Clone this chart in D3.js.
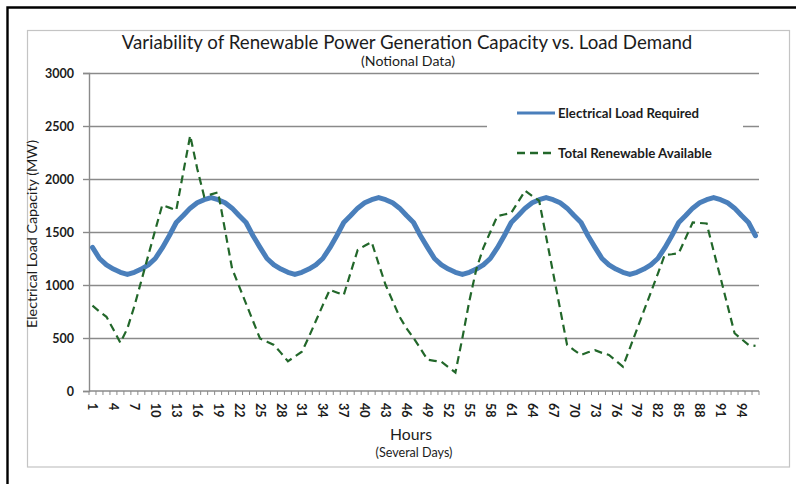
<!DOCTYPE html>
<html>
<head>
<meta charset="utf-8">
<script src="https://cdn.jsdelivr.net/npm/d3@7/dist/d3.min.js"></script>
<style>
  html, body { margin: 0; padding: 0; background: #fff; }
  svg { display: block; }
  text { font-family: Lato, "Open Sans", "Noto Sans", sans-serif; fill: #1c1c1c; }
</style>
</head>
<body>
<svg id="chart" width="796" height="484"></svg>
<script>
// Hour index along the category axis
const hours = d3.range(1, 97);
const hourLabels = [1, 4, 7, 10, 13, 16, 19, 22, 25, 28, 31, 34, 37, 40, 43, 46,
  49, 52, 55, 58, 61, 64, 67, 70, 73, 76, 79, 82, 85, 88, 91, 94];
const yTicks = [0, 500, 1000, 1500, 2000, 2500, 3000];

// Electrical load required (MW), hours 1..96
const loadRequired = [
  1355, 1250, 1190, 1150, 1120, 1100, 1120, 1150, 1190, 1250, 1350, 1465,
  1590, 1655, 1725, 1775, 1805, 1825, 1805, 1775, 1725, 1655, 1590, 1465,
  1355, 1250, 1190, 1150, 1120, 1100, 1120, 1150, 1190, 1250, 1350, 1465,
  1590, 1655, 1725, 1775, 1805, 1825, 1805, 1775, 1725, 1655, 1590, 1465,
  1355, 1250, 1190, 1150, 1120, 1100, 1120, 1150, 1190, 1250, 1350, 1465,
  1590, 1655, 1725, 1775, 1805, 1825, 1805, 1775, 1725, 1655, 1590, 1465,
  1355, 1250, 1190, 1150, 1120, 1100, 1120, 1150, 1190, 1250, 1350, 1465,
  1590, 1655, 1725, 1775, 1805, 1825, 1805, 1775, 1725, 1655, 1590, 1465
];

// Total renewable generation available (MW), hours 1..96
const renewableAvailable = [
  805, 750, 700, 580, 455, 590, 800, 1040, 1280, 1520, 1755, 1730,
  1705, 2060, 2410, 2100, 1835, 1855, 1875, 1515, 1155, 990, 825, 660,
  495, 465, 435, 360, 280, 325, 370, 510, 660, 810, 955, 930,
  905, 1120, 1330, 1370, 1405, 1200, 1000, 850, 700, 590, 500, 400,
  295, 285, 275, 225, 175, 500, 850, 1150, 1350, 1500, 1650, 1665,
  1680, 1785, 1890, 1840, 1795, 1455, 1115, 775, 435, 385, 340, 365,
  385, 360, 340, 285, 230, 405, 580, 755, 930, 1105, 1285, 1290,
  1300, 1445, 1590, 1585, 1580, 1320, 1065, 805, 545, 490, 435, 425
];

const seriesNames = ["Electrical Load Required", "Total Renewable Available"];
const titleText = "Variability of Renewable Power Generation Capacity vs. Load Demand";
const subtitleText = "(Notional Data)";
const yTitleText = "Electrical Load Capacity (MW)";
const xTitleText = "Hours";
const xSubtitleText = "(Several Days)";

const blue = "#4a7fbb";
const green = "#22672a";
const gridGray = "#8a8a8a";

const svg = d3.select("#chart");

// scale a text element's font size so it spans the given width
function fitWidth(sel, w) {
  const node = sel.node();
  const fs = parseFloat(sel.attr("font-size"));
  const len = node.getComputedTextLength();
  sel.attr("font-size", (fs * w / len).toFixed(2));
  return sel;
}

// outer frame (top and left edges) and chart area border
svg.append("path")
  .attr("d", "M7.5,484V7.5H796")
  .attr("fill", "none").attr("stroke", "#000").attr("stroke-width", 2.4);
svg.append("rect")
  .attr("x", 27.5).attr("y", 30.5).attr("width", 762).attr("height", 436.5)
  .attr("fill", "#fff").attr("stroke", "#c4c4c4").attr("stroke-width", 1.2);

const plot = { left: 89, right: 759, top: 73, bottom: 391 };

const x = d3.scaleBand().domain(hours).range([plot.left, plot.right]).padding(0);
const y = d3.scaleLinear().domain([0, 3000]).range([plot.bottom, plot.top]);
const cx = h => x(h) + x.bandwidth() / 2;

// horizontal gridlines
svg.append("g")
  .attr("transform", `translate(${plot.left},0)`)
  .call(d3.axisLeft(y).tickValues(yTicks.filter(v => v > 0))
    .tickSize(-(plot.right - plot.left)).tickFormat(""))
  .call(g => g.select(".domain").remove())
  .call(g => g.selectAll("line").attr("stroke", gridGray).attr("stroke-width", 1.4));

// y axis
const yAxis = svg.append("g")
  .attr("transform", `translate(${plot.left},0)`)
  .call(d3.axisLeft(y).tickValues(yTicks).tickFormat(d3.format("d"))
    .tickSize(6).tickPadding(9));
yAxis.select(".domain").attr("stroke", gridGray).attr("stroke-width", 1.4);
yAxis.selectAll("line").attr("stroke", gridGray).attr("stroke-width", 1.4);
yAxis.selectAll("text")
  .attr("font-size", 12.5).attr("font-weight", 700)
  .attr("font-family", "Lato, sans-serif").attr("fill", "#1c1c1c");

// x axis: baseline, category boundary ticks, rotated labels
svg.append("line")
  .attr("x1", plot.left).attr("x2", plot.right)
  .attr("y1", y(0)).attr("y2", y(0))
  .attr("stroke", gridGray).attr("stroke-width", 1.4);
svg.append("g").selectAll("line")
  .data(hours.concat([null]))
  .join("line")
  .attr("x1", d => d === null ? plot.right : x(d))
  .attr("x2", d => d === null ? plot.right : x(d))
  .attr("y1", y(0)).attr("y2", y(0) + 4)
  .attr("stroke", gridGray).attr("stroke-width", 1);

const xAxis = svg.append("g")
  .attr("transform", `translate(0,${y(0)})`)
  .call(d3.axisBottom(x).tickValues(hourLabels).tickSize(0));
xAxis.select(".domain").remove();
xAxis.selectAll("text")
  .attr("transform", "rotate(90)")
  .attr("x", 12).attr("y", 0).attr("dy", "0.35em")
  .attr("text-anchor", "start")
  .attr("font-size", 12.5).attr("font-weight", 700)
  .attr("font-family", "Lato, sans-serif").attr("fill", "#1c1c1c");

// series lines
const line = d3.line().x((d, i) => cx(hours[i])).y(d => y(d));

svg.append("path")
  .datum(loadRequired)
  .attr("d", line)
  .attr("fill", "none").attr("stroke", blue)
  .attr("stroke-width", 5).attr("stroke-linejoin", "round").attr("stroke-linecap", "round");

svg.append("path")
  .datum(renewableAvailable)
  .attr("d", line)
  .attr("fill", "none").attr("stroke", green)
  .attr("stroke-width", 2.2).attr("stroke-dasharray", "8,5");

// legend
const legend = svg.append("g");
legend.append("rect")
  .attr("x", 487).attr("y", 86).attr("width", 256).attr("height", 86)
  .attr("fill", "#fff");
const legendRows = [
  { name: seriesNames[0], y: 113, stroke: blue, width: 3, dash: null, w: 141 },
  { name: seriesNames[1], y: 153, stroke: green, width: 2.4, dash: "8,5", w: 154 }
];
legendRows.forEach(r => {
  legend.append("line")
    .attr("x1", 517).attr("x2", 555).attr("y1", r.y).attr("y2", r.y)
    .attr("stroke", r.stroke).attr("stroke-width", r.width)
    .attr("stroke-dasharray", r.dash);
  const t = legend.append("text")
    .attr("x", 558).attr("y", r.y).attr("dy", "0.35em")
    .attr("font-size", 12).attr("font-weight", 700)
    .text(r.name);
  fitWidth(t, r.w);
});

// titles
fitWidth(svg.append("text")
  .attr("x", 407).attr("y", 49).attr("text-anchor", "middle")
  .attr("font-size", 18).text(titleText), 571);
fitWidth(svg.append("text")
  .attr("x", 408).attr("y", 66).attr("text-anchor", "middle")
  .attr("font-size", 11).text(subtitleText), 94);
fitWidth(svg.append("text")
  .attr("transform", "translate(37,234) rotate(-90)")
  .attr("text-anchor", "middle")
  .attr("font-size", 13).text(yTitleText), 188);
fitWidth(svg.append("text")
  .attr("x", 411).attr("y", 440).attr("text-anchor", "middle")
  .attr("font-size", 15).text(xTitleText), 42);
fitWidth(svg.append("text")
  .attr("x", 414).attr("y", 457).attr("text-anchor", "middle")
  .attr("font-size", 12).text(xSubtitleText), 77);
</script>
</body>
</html>
